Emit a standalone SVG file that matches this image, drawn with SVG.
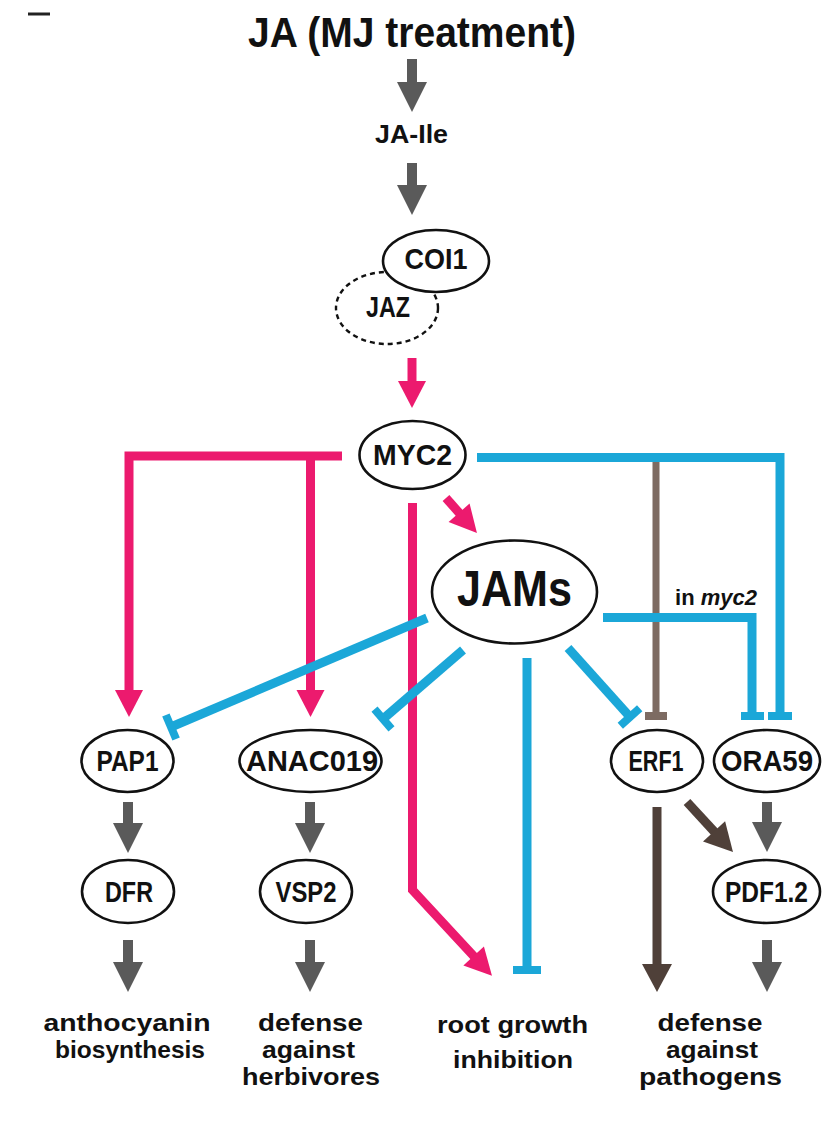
<svg xmlns="http://www.w3.org/2000/svg" width="825" height="1147" viewBox="0 0 825 1147">
<style>
text{font-family:"Liberation Sans",Arial,sans-serif;font-weight:bold;fill:#111;}
.node ellipse{fill:#fff;stroke:#111;stroke-width:2.6;}
.lbl{font-size:30px;text-anchor:middle;}
.out{font-size:24px;text-anchor:middle;}
.gray{stroke:#5a5a5a;stroke-width:10;fill:none;}
.pink{stroke:#ec1a6e;stroke-width:9;fill:none;stroke-linejoin:miter;}
.blue{stroke:#1ba7d8;stroke-width:9;fill:none;stroke-linejoin:miter;}
.bluebar{stroke:#1ba7d8;stroke-width:8;fill:none;}
.brownT{stroke:#7d6b62;stroke-width:7;fill:none;}
.brownTbar{stroke:#7d6b62;stroke-width:8;fill:none;}
.brown{stroke:#4f4039;stroke-width:9;fill:none;}
</style>
<defs>
<marker id="ahGray" markerUnits="userSpaceOnUse" viewBox="-3 -16 32 32" markerWidth="32" markerHeight="32" refX="0" refY="0" orient="auto" overflow="visible"><path d="M-2,-15 L28,0 L-2,15 Z" fill="#5a5a5a"/></marker>
<marker id="ahPink" markerUnits="userSpaceOnUse" viewBox="-3 -16 32 32" markerWidth="32" markerHeight="32" refX="0" refY="0" orient="auto" overflow="visible"><path d="M-2,-14 L25,0 L-2,14 Z" fill="#ec1a6e"/></marker>
<marker id="ahBrown" markerUnits="userSpaceOnUse" viewBox="-3 -16 32 32" markerWidth="32" markerHeight="32" refX="0" refY="0" orient="auto" overflow="visible"><path d="M-2,-15 L26,0 L-2,15 Z" fill="#4f4039"/></marker>
</defs>
<rect width="825" height="1147" fill="#fff"/>
<line x1="28" y1="14" x2="50" y2="14" stroke="#222" stroke-width="3"/>

<g id="connectors">
  <line class="gray" x1="412" y1="59" x2="412" y2="84" marker-end="url(#ahGray)"/>
  <line class="gray" x1="412" y1="163" x2="412" y2="187" marker-end="url(#ahGray)"/>
  <line class="pink" x1="412" y1="358" x2="412" y2="383" marker-end="url(#ahPink)"/>
  <path class="pink" d="M342,456 H129 V692" marker-end="url(#ahPink)"/>
  <line class="pink" x1="310.5" y1="456" x2="310.5" y2="692" marker-end="url(#ahPink)"/>
  <line class="pink" x1="446" y1="498" x2="460.4" y2="514.3" marker-end="url(#ahPink)"/>
  <path class="pink" d="M412.5,503 V890 L475,957.5" marker-end="url(#ahPink)"/>
  <line class="brownT" x1="656" y1="458" x2="656" y2="713"/>
  <line class="brownTbar" x1="645" y1="716" x2="667" y2="716"/>
  <path class="blue" d="M477,457.5 H780 V713"/>
  <line class="bluebar" x1="768" y1="716" x2="792" y2="716"/>
  <path class="blue" d="M603,617.5 H752 V713"/>
  <line class="bluebar" x1="741" y1="716" x2="764" y2="716"/>
  <line class="blue" x1="427" y1="618" x2="171" y2="727"/>
  <line class="bluebar" x1="165.9" y1="715" x2="176.1" y2="739"/>
  <line class="blue" x1="463" y1="650" x2="383" y2="719"/>
  <line class="bluebar" x1="374.5" y1="709.2" x2="391.5" y2="728.8"/>
  <line class="blue" x1="568" y1="648" x2="630" y2="717"/>
  <line class="bluebar" x1="620.3" y1="725.7" x2="639.7" y2="708.3"/>
  <line class="blue" x1="527" y1="658" x2="527" y2="966"/>
  <line class="bluebar" x1="513" y1="970" x2="541" y2="970"/>
  <line class="gray" x1="128" y1="802" x2="128" y2="825" marker-end="url(#ahGray)"/>
  <line class="gray" x1="310" y1="802" x2="310" y2="825" marker-end="url(#ahGray)"/>
  <line class="gray" x1="767" y1="802" x2="767" y2="824" marker-end="url(#ahGray)"/>
  <line class="brown" x1="657" y1="807" x2="657" y2="966" marker-end="url(#ahBrown)"/>
  <line class="brown" x1="687" y1="802" x2="715.4" y2="832.9" marker-end="url(#ahBrown)"/>
  <line class="gray" x1="128" y1="940" x2="128" y2="964" marker-end="url(#ahGray)"/>
  <line class="gray" x1="310" y1="940" x2="310" y2="964" marker-end="url(#ahGray)"/>
  <line class="gray" x1="767" y1="940" x2="767" y2="964" marker-end="url(#ahGray)"/>
</g>

<g id="title"><text x="412" y="47" font-size="42" text-anchor="middle" textLength="328" lengthAdjust="spacingAndGlyphs">JA (MJ treatment)</text></g>
<g id="ja-ile"><text x="411.5" y="143" font-size="25" text-anchor="middle" textLength="73" lengthAdjust="spacingAndGlyphs">JA-Ile</text></g>

<g id="JAZ" class="node"><ellipse cx="387" cy="308" rx="51" ry="36" style="stroke-dasharray:5 4;stroke-width:2.4"/><text class="lbl" x="388" y="317" textLength="44" lengthAdjust="spacingAndGlyphs">JAZ</text></g>
<g id="COI1" class="node"><ellipse cx="436" cy="261" rx="53" ry="31"/><text class="lbl" x="436" y="269" textLength="63" lengthAdjust="spacingAndGlyphs">COI1</text></g>
<g id="MYC2" class="node"><ellipse cx="412.5" cy="455" rx="53" ry="34"/><text class="lbl" x="412.5" y="465" textLength="79" lengthAdjust="spacingAndGlyphs">MYC2</text></g>
<g id="JAMs" class="node"><ellipse cx="514.5" cy="592" rx="82.5" ry="51.5"/><text x="514.5" y="606" font-size="50" text-anchor="middle" textLength="115" lengthAdjust="spacingAndGlyphs">JAMs</text></g>
<g id="in-myc2"><text x="716" y="605" font-size="22" text-anchor="middle">in <tspan font-style="italic">myc2</tspan></text></g>

<g id="PAP1" class="node"><ellipse cx="127.5" cy="761" rx="46" ry="31"/><text class="lbl" x="127.5" y="771" textLength="62" lengthAdjust="spacingAndGlyphs">PAP1</text></g>
<g id="ANAC019" class="node"><ellipse cx="310.5" cy="761" rx="71" ry="31"/><text class="lbl" x="312" y="771" textLength="132" lengthAdjust="spacingAndGlyphs">ANAC019</text></g>
<g id="ERF1" class="node"><ellipse cx="657" cy="761" rx="46" ry="31"/><text class="lbl" x="656" y="771" textLength="55" lengthAdjust="spacingAndGlyphs">ERF1</text></g>
<g id="ORA59" class="node"><ellipse cx="767" cy="761" rx="53" ry="31"/><text class="lbl" x="767" y="771" textLength="92" lengthAdjust="spacingAndGlyphs">ORA59</text></g>
<g id="DFR" class="node"><ellipse cx="128" cy="891.5" rx="46" ry="31.5"/><text class="lbl" x="129" y="902" textLength="48" lengthAdjust="spacingAndGlyphs">DFR</text></g>
<g id="VSP2" class="node"><ellipse cx="306" cy="891.5" rx="46" ry="31.5"/><text class="lbl" x="306" y="902" textLength="61" lengthAdjust="spacingAndGlyphs">VSP2</text></g>
<g id="PDF1.2" class="node"><ellipse cx="766.5" cy="891.5" rx="53.5" ry="31.5"/><text class="lbl" x="766.5" y="902" textLength="83" lengthAdjust="spacingAndGlyphs">PDF1.2</text></g>

<g id="out-anthocyanin">
<text class="out" x="127" y="1031" textLength="167" lengthAdjust="spacingAndGlyphs">anthocyanin</text>
<text class="out" x="130" y="1058" textLength="150" lengthAdjust="spacingAndGlyphs">biosynthesis</text>
</g>
<g id="out-herbivores">
<text class="out" x="310.5" y="1031" textLength="105" lengthAdjust="spacingAndGlyphs">defense</text>
<text class="out" x="308.5" y="1058" textLength="93" lengthAdjust="spacingAndGlyphs">against</text>
<text class="out" x="311" y="1085" textLength="138" lengthAdjust="spacingAndGlyphs">herbivores</text>
</g>
<g id="out-root">
<text class="out" x="512.5" y="1033" font-size="29" textLength="151" lengthAdjust="spacingAndGlyphs">root growth</text>
<text class="out" x="513" y="1068" font-size="29" textLength="120" lengthAdjust="spacingAndGlyphs">inhibition</text>
</g>
<g id="out-pathogens">
<text class="out" x="710" y="1031" textLength="105" lengthAdjust="spacingAndGlyphs">defense</text>
<text class="out" x="712" y="1058" textLength="92" lengthAdjust="spacingAndGlyphs">against</text>
<text class="out" x="710.5" y="1085" textLength="143" lengthAdjust="spacingAndGlyphs">pathogens</text>
</g>
</svg>
